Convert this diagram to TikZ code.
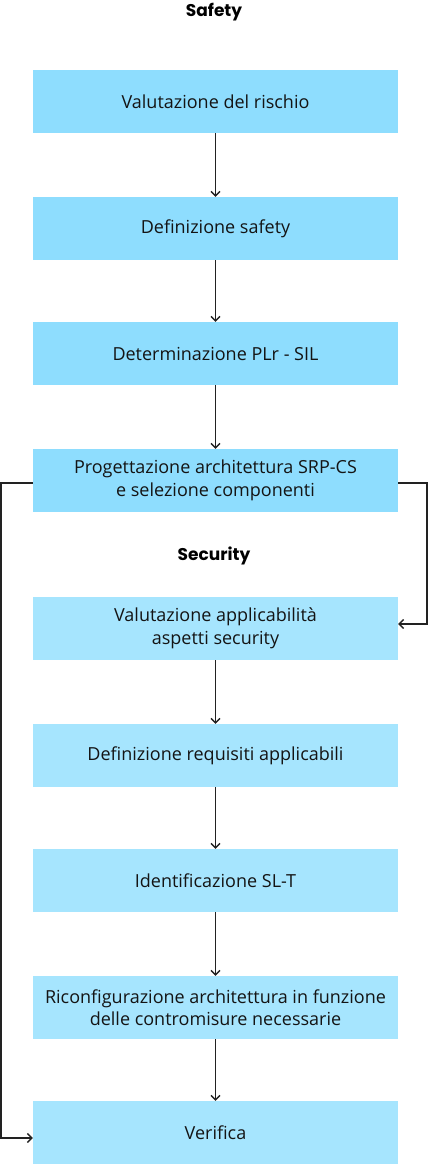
\documentclass[tikz,border=0pt]{standalone}
\usepackage{fontspec}
\setmainfont{Open Sans}
\newfontfamily\titlefont{Poppins}
\usetikzlibrary{arrows.meta}
\definecolor{safefill}{HTML}{8EDDFE}
\definecolor{secfill}{HTML}{A6E5FE}
\definecolor{inkc}{HTML}{141414}
\definecolor{linec}{HTML}{222222}
\tikzset{
  stepbox/.style={rectangle, inner sep=0pt, minimum width=365pt, minimum height=63pt,
    text=inkc, font=\fontsize{18}{22.5}\selectfont, align=center},
  safebox/.style={stepbox, fill=safefill},
  secbox/.style={stepbox, fill=secfill},
  titlelbl/.style={font=\titlefont\bfseries\fontsize{17}{20}\selectfont, text=black, inner sep=0pt},
  conn/.style={draw=linec, line width=1.3pt, -{Straight Barb[length=4.5pt,width=9pt,line width=1.3pt]}}
}
\begin{document}
\begin{tikzpicture}[x=1pt,y=-1pt]
\useasboundingbox (0,0) rectangle (428,1164);
\node[titlelbl] (t1) at (214,12) {Safety};
\node[safebox] (b1) at (215.5,101.5) {Valutazione del rischio};
\node[safebox] (b2) at (215.5,228.5) {Definizione safety};
\node[safebox] (b3) at (215.5,353.5) {Determinazione PLr - SIL};
\node[safebox] (b4) at (215.5,480.5) {Progettazione architettura SRP-CS\\e selezione componenti};
\node[titlelbl] (t2) at (214,556) {Security};
\node[secbox] (b5) at (215.5,628.5) {Valutazione applicabilità\\aspetti security};
\node[secbox] (b6) at (215.5,755.5) {Definizione requisiti applicabili};
\node[secbox] (b7) at (215.5,880.5) {Identificazione SL-T};
\node[secbox] (b8) at (215.5,1007.5) {Riconfigurazione architettura in funzione\\delle contromisure necessarie};
\node[secbox] (b9) at (215.5,1132.5) {Verifica};
\coordinate (lA) at (1,483);
\coordinate (lB) at (1,1138);
\coordinate (rA) at (427,483);
\coordinate (rB) at (427,624);
\draw[conn] (b1) -- (b2);
\draw[conn] (b2) -- (b3);
\draw[conn] (b3) -- (b4);
\draw[conn] (b5) -- (b6);
\draw[conn] (b6) -- (b7);
\draw[conn] (b7) -- (b8);
\draw[conn] (b8) -- (b9);
\draw[conn] (b4.west |- lA) -- (lA) -- (lB) -- (b9.west |- lB);
\draw[conn] (b4.east |- rA) -- (rA) -- (rB) -- (b5.east |- rB);
\end{tikzpicture}
\end{document}
